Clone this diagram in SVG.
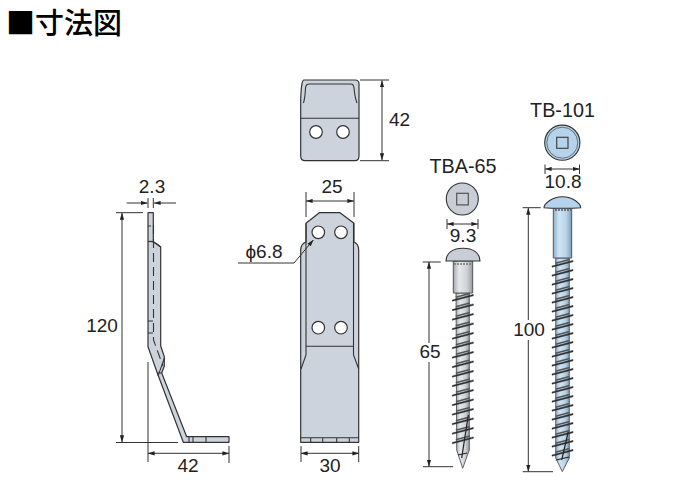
<svg xmlns="http://www.w3.org/2000/svg" xmlns:xlink="http://www.w3.org/1999/xlink" width="700" height="500" viewBox="0 0 700 500">
<style>
text{font-family:"Liberation Sans","Noto Sans CJK JP",sans-serif;fill:#222;text-anchor:middle}
.t{font-size:19px}
.h{font-size:19.8px}
.d{fill:none;stroke:#333;stroke-width:1}
.a{marker-start:url(#ar);marker-end:url(#ar)}
.p{fill:#cdd3dc;stroke:#333;stroke-width:1.2;stroke-linejoin:round}
.l{fill:none;stroke:#333;stroke-width:1.1}
.hole{fill:#fff;stroke:#333;stroke-width:1.2}
.k{fill:none;stroke:#222;stroke-width:1.2}
</style>
<defs>
<marker id="ar" viewBox="0 0 10 6" refX="9.5" refY="3" markerUnits="userSpaceOnUse" markerWidth="7" markerHeight="5" orient="auto-start-reverse"><path d="M0 0L10 3L0 6Z" fill="#222"/></marker>
<linearGradient id="gy" x1="0" x2="1" y1="0" y2="0"><stop offset="0" stop-color="#a5a9af"/><stop offset=".3" stop-color="#e6e8eb"/><stop offset=".7" stop-color="#cfd2d7"/><stop offset="1" stop-color="#969aa0"/></linearGradient>
<linearGradient id="bl" x1="0" x2="1" y1="0" y2="0"><stop offset="0" stop-color="#8fadc5"/><stop offset=".3" stop-color="#cfe4f3"/><stop offset=".7" stop-color="#b7d3e8"/><stop offset="1" stop-color="#7f9cb3"/></linearGradient>
<g id="th"><path d="M-10.500 3L10.500 -2.600L10.500 -1.200L-10.500 4.200Z" fill="#2a2a2a" stroke="#2a2a2a" stroke-width=".5"/><path d="M-7 0.200L7 -3.400" stroke="#555" stroke-width="1.500" fill="none"/></g>
</defs>

<text x="6" y="34" style="font-size:29px;font-weight:500;text-anchor:start;font-family:'Noto Sans CJK JP',sans-serif;fill:#000">■寸法図</text>

<g id="side">
<path class="p" d="M148 212.700H153.300V241.700L160.700 247V346L164.300 356.700V366L161.700 373L186.700 436.700H229V442.300H183.300L157.300 373L148 346.700Z"/>
<path class="l" d="M148 226H151M148 241.700Q153 240 160.700 247M148 321H153M148 333H153M189 437V442M193 437V442M206 437V442"/>
<path class="l" d="M153.500 225V340L163 366" stroke-dasharray="9 5"/>
<path class="l" d="M164.300 358C162 366 160 370 158 376M157.300 373H161.700"/>
<text class="t" x="152" y="193">2.3</text>
<text class="t" x="102" y="332">120</text>
<text class="t" x="188" y="472">42</text>
</g>

<g id="top-view">
<path class="p" d="M304 80H355Q359 80 359 84L359 156Q359 160.700 355 160.700H305Q300.700 160.700 300.700 156V100Q301 88 302 84Q302.500 80 304 80Z"/>
<path class="l" d="M303.500 103Q305 98 305.500 88Q306 84 309 84H351Q353.500 84 354 88Q355 98 357 103M300.700 118.300H359"/>
<circle class="hole" cx="316" cy="132" r="6.300"/>
<circle class="hole" cx="343" cy="132" r="6.300"/>
<text class="t" x="399.500" y="126">42</text>
</g>

<g id="front-view">
<path class="p" d="M306 223.300L319.300 212.700H340L354 223.300V242Q358.700 244 358.700 250V442.300H300.700V250Q300.700 244 306 242Z"/>
<path class="l" d="M306 223.300V355L301 369M353.500 223.300V355L358.700 369M306 346.300H353.500M301 437.700H358.700M310.700 437.700V442M322.700 437.700V442M336.700 437.700V442M349.300 437.700V442"/>
<circle class="hole" cx="318.300" cy="232.300" r="6.300"/>
<circle class="hole" cx="341" cy="232.300" r="6.300"/>
<circle class="hole" cx="318.300" cy="327.700" r="6.300"/>
<circle class="hole" cx="341" cy="327.700" r="6.300"/>
<text class="t" x="332" y="193">25</text>
<text class="t" x="264" y="258"><tspan>ϕ</tspan>6.8</text>
<text class="t" x="330" y="472">30</text>
</g>

<g id="tba-65">
<circle cx="462.300" cy="199" r="16" fill="#c9ced6" stroke="#333" stroke-width="1.100"/>
<rect x="456.700" y="193.300" width="11.600" height="11.600" fill="none" stroke="#555" stroke-width="1.200"/>
<path d="M456 293H469.300V450L462.700 468.300L456.700 450Z" fill="url(#gy)" stroke="#444" stroke-width=".8"/>
<path d="M453.300 261H472.700V293H453.300Z" fill="url(#gy)" stroke="#555" stroke-width="1"/>
<path d="M446 261C446 253 453 248.300 463 248.300C473 248.300 480 253 480 261Z" fill="#c9ced6" stroke="#333" stroke-width="1.100"/>
<path d="M454 264H472" stroke="#777" stroke-width="1.500" stroke-dasharray="2 1"/>
<use xlink:href="#th" href="#th" x="462.800" y="297"/><use xlink:href="#th" href="#th" x="462.800" y="306.500"/><use xlink:href="#th" href="#th" x="462.800" y="316"/><use xlink:href="#th" href="#th" x="462.800" y="325.500"/><use xlink:href="#th" href="#th" x="462.800" y="335"/><use xlink:href="#th" href="#th" x="462.800" y="344.500"/><use xlink:href="#th" href="#th" x="462.800" y="354"/><use xlink:href="#th" href="#th" x="462.800" y="363.500"/><use xlink:href="#th" href="#th" x="462.800" y="373"/><use xlink:href="#th" href="#th" x="462.800" y="382.500"/><use xlink:href="#th" href="#th" x="462.800" y="392"/><use xlink:href="#th" href="#th" x="462.800" y="401.500"/><use xlink:href="#th" href="#th" x="462.800" y="411"/><use xlink:href="#th" href="#th" x="462.800" y="420.500"/><use xlink:href="#th" href="#th" x="462.800" y="430"/><use xlink:href="#th" href="#th" x="462.800" y="439.500"/>
<path class="k" d="M468.300 415L461.700 458M458 455L467 453"/>
<text class="h" x="463" y="172.700">TBA-65</text>
<text class="t" x="463" y="241.700">9.3</text>
<text class="t" x="430" y="358.300">65</text>
</g>

<g id="tb-101">
<circle cx="562.300" cy="142.700" r="17.600" fill="#b5d3ea" stroke="#333" stroke-width="1.100"/>
<circle cx="562.300" cy="142.700" r="15.500" fill="none" stroke="#555" stroke-width=".8"/>
<rect x="556.700" y="137.300" width="11.300" height="11" fill="none" stroke="#444" stroke-width="1.200"/>
<path d="M555.700 258H569.300V458L562.300 471.700L555.700 458Z" fill="url(#bl)" stroke="#444" stroke-width=".8"/>
<path d="M553.300 207.700H571.700V258H553.300Z" fill="url(#bl)" stroke="#556" stroke-width="1"/>
<path d="M544 207.700C544 204 552 196.700 562.500 196.700C573 196.700 580.700 204 580.700 207.700C572 208.500 552 208.500 544 207.700Z" fill="#b5d3ea" stroke="#333" stroke-width="1.100"/>
<path d="M555 210H571" stroke="#556" stroke-width="1.500" stroke-dasharray="2 1"/>
<use xlink:href="#th" href="#th" x="562.500" y="263"/><use xlink:href="#th" href="#th" x="562.500" y="272"/><use xlink:href="#th" href="#th" x="562.500" y="281"/><use xlink:href="#th" href="#th" x="562.500" y="290"/><use xlink:href="#th" href="#th" x="562.500" y="299"/><use xlink:href="#th" href="#th" x="562.500" y="308"/><use xlink:href="#th" href="#th" x="562.500" y="317"/><use xlink:href="#th" href="#th" x="562.500" y="326"/><use xlink:href="#th" href="#th" x="562.500" y="335"/><use xlink:href="#th" href="#th" x="562.500" y="344"/><use xlink:href="#th" href="#th" x="562.500" y="353"/><use xlink:href="#th" href="#th" x="562.500" y="362"/><use xlink:href="#th" href="#th" x="562.500" y="371"/><use xlink:href="#th" href="#th" x="562.500" y="380"/><use xlink:href="#th" href="#th" x="562.500" y="389"/><use xlink:href="#th" href="#th" x="562.500" y="398"/><use xlink:href="#th" href="#th" x="562.500" y="407"/><use xlink:href="#th" href="#th" x="562.500" y="416"/><use xlink:href="#th" href="#th" x="562.500" y="425"/><use xlink:href="#th" href="#th" x="562.500" y="434"/><use xlink:href="#th" href="#th" x="562.500" y="443"/><use xlink:href="#th" href="#th" x="562.500" y="452"/>
<path class="k" d="M568.300 431.700L561.700 460M556 460L569 457"/>
<text class="h" x="562.500" y="116.700">TB-101</text>
<text class="t" x="563" y="188">10.8</text>
<text class="t" x="529" y="335.700">100</text>
</g>

<g id="connectors">
<path class="d a" d="M122 213V442"/><path class="d" d="M116 212.700H143M116 442.500H178"/>
<path class="d" d="M148 198V208M153.300 198V208"/>
<line class="d" x1="126.700" y1="203" x2="147.500" y2="203" marker-end="url(#ar)"/>
<line class="d" x1="176" y1="203" x2="154" y2="203" marker-end="url(#ar)"/>
<path class="d a" d="M148 453.300H229"/><path class="d" d="M148 362V462M229 446V463"/>
<path class="d a" d="M382 80.500V160"/><path class="d" d="M360 80H389M360 160.700H389"/>
<path class="d a" d="M306 201H354"/><path class="d" d="M306 192V217M354 192V217"/>
<path class="d" d="M238 263H294L313.300 240" marker-end="url(#ar)"/>
<path class="d a" d="M301 453.300H359"/><path class="d" d="M301 446V462M358.700 446V462"/>
<path class="d a" d="M447 224H478"/><path class="d" d="M447 219V229M478 219V229"/>
<line class="d" x1="429" y1="343" x2="429" y2="262" marker-end="url(#ar)"/>
<line class="d" x1="429" y1="362" x2="429" y2="466.500" marker-end="url(#ar)"/>
<path class="d" d="M422.700 262H440.700M423 466.700H453"/>
<path class="d a" d="M545 169H579.500"/><path class="d" d="M545 164.500V174M579.500 164.500V174"/>
<line class="d" x1="528.300" y1="320" x2="528.300" y2="208" marker-end="url(#ar)"/>
<line class="d" x1="528.300" y1="340" x2="528.300" y2="471.500" marker-end="url(#ar)"/>
<path class="d" d="M522.700 207.700H540.700M522.700 471.700H553"/>
</g>
</svg>
